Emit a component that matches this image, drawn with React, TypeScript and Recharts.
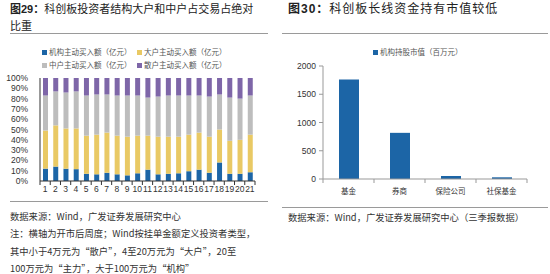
import React from "react";
import { BarChart, Bar, XAxis, YAxis } from "recharts";

const weeks = ["1","2","3","4","5","6","7","8","9","10","11","12","13","14","15","16","17","18","19","20","21"];
const institution = [12, 14, 12, 11.5, 7, 6.5, 8, 6.5, 5.5, 7.5, 11, 6.5, 7, 7.5, 9.5, 11, 8, 18, 7, 7, 8.5];
const large = [37, 40, 39, 39.5, 37, 38.5, 39, 37.5, 37.5, 36.5, 33, 36.5, 36, 35.5, 35.5, 36, 35, 32, 32, 33, 36.5];
const medium = [34, 33, 35, 36, 39, 39, 37, 39, 40, 39, 37, 39, 40, 40, 38, 36, 39, 34, 42, 40, 38];
const retail = [17, 13, 14, 13, 17, 16, 16, 17, 17, 17, 19, 18, 17, 17, 17, 17, 18, 16, 19, 20, 17];
const pctTicks = [0, 10, 20, 30, 40, 50, 60, 70, 80, 90, 100];

const holders = ["基金", "券商", "保险公司", "社保基金"];
const holdValue = [1760, 817, 53, 30];
const valueTicks = [0, 500, 1000, 1500, 2000];

const leftSeries = [
  { key: "inst", name: "机构主动买入额（亿元）", color: "#1C65A6" },
  { key: "large", name: "大户主动买入额（亿元）", color: "#E9C964" },
  { key: "medium", name: "中户主动买入额（亿元）", color: "#BDBDBD" },
  { key: "retail", name: "散户主动买入额（亿元）", color: "#7E66A8" },
];

const leftData = weeks.map((w, i) => ({
  week: w,
  inst: institution[i],
  large: large[i],
  medium: medium[i],
  retail: retail[i],
}));
const rightData = holders.map((h, i) => ({ name: h, value: holdValue[i] }));

const SANS = '"Liberation Sans", Arial, "Noto Sans CJK SC", sans-serif';
const CJK = '"Noto Sans CJK SC", "Liberation Sans", sans-serif';

const BoundaryTick = (props: any) => {
  const { x, y, payload, index, visibleTicksCount, fontSize, stroke, tickLen, gap, fontFamily } = props;
  const off = payload.offset || 0;
  const y0 = y - gap;
  return (
    <g>
      <line x1={x - off} x2={x - off} y1={y0} y2={y0 + tickLen} stroke={stroke} strokeWidth={1} />
      {index === visibleTicksCount - 1 && (
        <line x1={x + off} x2={x + off} y1={y0} y2={y0 + tickLen} stroke={stroke} strokeWidth={1} />
      )}
      <text x={x} y={y} dy="0.71em" textAnchor="middle" fontSize={fontSize} fill="#333" fontFamily={fontFamily}>
        {payload.value}
      </text>
    </g>
  );
};

const Sq = ({ color }: { color: string }) => (
  <span style={{ display: "inline-block", width: 5, height: 5, background: color, marginRight: 2, verticalAlign: "middle" }} />
);

export default function App() {
  return (
    <div style={{ position: "absolute", left: 0, top: 0, width: 550, height: 274, background: "#fff", overflow: "hidden", fontFamily: CJK, color: "#222" }}>
      {/* Titles */}
      <div style={{ position: "absolute", left: 10, top: 0, fontSize: 11, lineHeight: "16px", letterSpacing: 0, whiteSpace: "nowrap" }}>
        <span style={{ fontWeight: 700, fontFamily: SANS }}>图29：</span>科创板投资者结构大户和中户占交易占绝对<br />比重
      </div>
      <div style={{ position: "absolute", left: 288, top: 0, fontSize: 12, lineHeight: "16px", letterSpacing: 1, whiteSpace: "nowrap" }}>
        <span style={{ fontWeight: 700, fontFamily: SANS }}>图30：</span>科创板长线资金持有市值较低
      </div>
      <div style={{ position: "absolute", left: 10, top: 33, width: 258, height: 1, background: "#9a9a9a" }} />
      <div style={{ position: "absolute", left: 282, top: 33, width: 266, height: 1, background: "#9a9a9a" }} />

      {/* Left legend */}
      <div style={{ position: "absolute", left: 42, top: 46, width: 200, fontSize: 7.5, color: "#555", lineHeight: "12.6px" }}>
        {leftSeries.map((s) => (
          <div key={s.key} style={{ display: "inline-block", width: 95, whiteSpace: "nowrap" }}>
            <Sq color={s.color} />
            {s.name}
          </div>
        ))}
      </div>

      {/* Left chart */}
      <div style={{ position: "absolute", left: 0, top: 0 }}>
        <BarChart width={275} height={274} data={leftData} margin={{ top: 78, right: 20, left: 0, bottom: 73 }}>
          <XAxis
            dataKey="week"
            interval={0}
            height={20}
            axisLine={{ stroke: "#333" }}
            tickLine={false}
            tick={<BoundaryTick fontSize={8.5} stroke="#333" tickLen={4} gap={5} fontFamily={SANS} />}
            tickMargin={0}
            tickSize={5}
          />
          <YAxis
            width={40}
            domain={[0, 100]}
            ticks={pctTicks}
            interval={0}
            tickFormatter={(v: number) => `${v}%`}
            axisLine={{ stroke: "#333" }}
            tickLine={false}
            tickMargin={6}
            tick={{ fontSize: 8.5, fill: "#333", fontFamily: SANS }}
          />
          {leftSeries.map((s) => (
            <Bar key={s.key} dataKey={s.key} stackId="s" fill={s.color} barSize={5} isAnimationActive={false} />
          ))}
        </BarChart>
      </div>

      {/* Right legend */}
      <div style={{ position: "absolute", left: 373, top: 46, fontSize: 7.5, color: "#555", whiteSpace: "nowrap" }}>
        <Sq color="#1C65A6" />机构持股市值（百万元）
      </div>

      {/* Right chart */}
      <div style={{ position: "absolute", left: 275, top: 0 }}>
        <BarChart width={275} height={274} data={rightData} margin={{ top: 66, right: 23, left: 8, bottom: 75 }}>
          <XAxis
            dataKey="name"
            interval={0}
            height={20}
            axisLine={{ stroke: "#999" }}
            tickLine={false}
            tick={<BoundaryTick fontSize={7.5} stroke="#999" tickLen={4} gap={10} fontFamily={CJK} />}
            tickMargin={5}
            tickSize={5}
          />
          <YAxis
            width={40}
            domain={[0, 2000]}
            ticks={valueTicks}
            interval={0}
            axisLine={{ stroke: "#999" }}
            tickLine={{ stroke: "#999" }}
            tickSize={4}
            tickMargin={3}
            tick={{ fontSize: 8.5, fill: "#333", fontFamily: SANS }}
          />
          <Bar dataKey="value" fill="#1C65A6" barSize={20} isAnimationActive={false} />
        </BarChart>
      </div>

      {/* Notes */}
      <div style={{ position: "absolute", left: 10, top: 201, width: 258, height: 1, background: "#9a9a9a" }} />
      <div style={{ position: "absolute", left: 10, top: 208, fontSize: 9.3, lineHeight: "17.3px", color: "#333", whiteSpace: "nowrap" }}>
        <div>数据来源：Wind，广发证券发展研究中心</div>
        <div>注：横轴为开市后周度；Wind按挂单金额定义投资者类型，</div>
        <div>其中小于4万元为“散户”，4至20万元为“大户”，20至</div>
        <div>100万元为“主力”，大于100万元为“机构”</div>
      </div>
      <div style={{ position: "absolute", left: 282, top: 207, width: 266, height: 1, background: "#9a9a9a" }} />
      <div style={{ position: "absolute", left: 288, top: 209, fontSize: 9.3, lineHeight: "17.3px", color: "#333", whiteSpace: "nowrap" }}>
        数据来源：Wind，广发证券发展研究中心（三季报数据）
      </div>
    </div>
  );
}
